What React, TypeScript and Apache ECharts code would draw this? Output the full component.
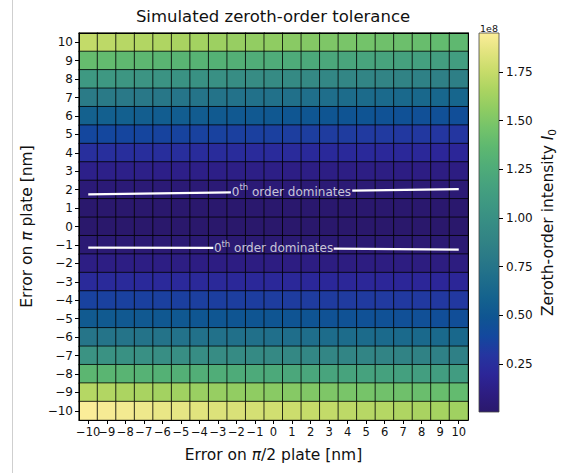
import React, { useEffect, useRef } from "react";
import * as echarts from "echarts";

const FONT = "DejaVu Sans";
const TEXT = "#111";

// Tick values on both axes (nm)
const xTickValues = [-10, -9, -8, -7, -6, -5, -4, -3, -2, -1, 0, 1, 2, 3, 4, 5, 6, 7, 8, 9, 10];
const yTickValues = [-10, -9, -8, -7, -6, -5, -4, -3, -2, -1, 0, 1, 2, 3, 4, 5, 6, 7, 8, 9, 10];

// Rows listed from the top (π plate error = +10) to the bottom (−10)
const rowYValues = [10, 9, 8, 7, 6, 5, 4, 3, 2, 1, 0, -1, -2, -3, -4, -5, -6, -7, -8, -9, -10];

// Zeroth-order intensity in units of 1e8; each row runs x = −10 … +10
const intensityRows: number[][] = [
  [1.74, 1.72, 1.70, 1.68, 1.67, 1.65, 1.63, 1.61, 1.59, 1.57, 1.56, 1.54, 1.52, 1.50, 1.48, 1.46, 1.44, 1.43, 1.41, 1.39, 1.37],
  [1.40, 1.39, 1.37, 1.36, 1.34, 1.33, 1.32, 1.30, 1.29, 1.27, 1.26, 1.25, 1.23, 1.22, 1.20, 1.19, 1.18, 1.16, 1.15, 1.13, 1.12],
  [1.08, 1.07, 1.06, 1.04, 1.03, 1.02, 1.01, 1.00, 0.98, 0.97, 0.96, 0.95, 0.94, 0.92, 0.91, 0.90, 0.89, 0.88, 0.86, 0.85, 0.84],
  [0.81, 0.80, 0.79, 0.78, 0.77, 0.76, 0.75, 0.74, 0.73, 0.72, 0.72, 0.71, 0.70, 0.69, 0.68, 0.67, 0.66, 0.65, 0.64, 0.63, 0.62],
  [0.58, 0.57, 0.57, 0.56, 0.55, 0.55, 0.54, 0.53, 0.52, 0.52, 0.51, 0.50, 0.50, 0.49, 0.48, 0.48, 0.47, 0.46, 0.45, 0.45, 0.44],
  [0.39, 0.39, 0.38, 0.38, 0.37, 0.37, 0.36, 0.36, 0.35, 0.35, 0.35, 0.34, 0.34, 0.33, 0.33, 0.32, 0.32, 0.31, 0.31, 0.30, 0.30],
  [0.26, 0.26, 0.25, 0.25, 0.25, 0.25, 0.24, 0.24, 0.24, 0.23, 0.23, 0.23, 0.22, 0.22, 0.22, 0.22, 0.21, 0.21, 0.21, 0.20, 0.20],
  [0.135, 0.133, 0.132, 0.130, 0.128, 0.126, 0.125, 0.123, 0.121, 0.119, 0.118, 0.116, 0.114, 0.112, 0.111, 0.109, 0.107, 0.105, 0.104, 0.102, 0.100],
  [0.052, 0.051, 0.051, 0.050, 0.050, 0.050, 0.049, 0.049, 0.048, 0.048, 0.047, 0.047, 0.046, 0.046, 0.045, 0.045, 0.044, 0.044, 0.043, 0.043, 0.042],
  [0.010, 0.010, 0.010, 0.010, 0.010, 0.010, 0.010, 0.011, 0.011, 0.011, 0.011, 0.011, 0.011, 0.011, 0.011, 0.011, 0.012, 0.012, 0.012, 0.012, 0.012],
  [0.004, 0.004, 0.004, 0.004, 0.004, 0.004, 0.004, 0.004, 0.004, 0.004, 0.005, 0.005, 0.005, 0.005, 0.005, 0.005, 0.005, 0.005, 0.005, 0.005, 0.005],
  [0.038, 0.038, 0.038, 0.038, 0.038, 0.038, 0.038, 0.037, 0.037, 0.037, 0.037, 0.037, 0.037, 0.037, 0.037, 0.037, 0.036, 0.036, 0.036, 0.036, 0.036],
  [0.112, 0.111, 0.110, 0.109, 0.108, 0.107, 0.106, 0.105, 0.104, 0.103, 0.102, 0.101, 0.100, 0.099, 0.098, 0.097, 0.096, 0.095, 0.094, 0.093, 0.092],
  [0.225, 0.224, 0.222, 0.221, 0.219, 0.218, 0.216, 0.215, 0.213, 0.212, 0.210, 0.209, 0.207, 0.206, 0.204, 0.203, 0.201, 0.200, 0.198, 0.197, 0.195],
  [0.360, 0.358, 0.355, 0.353, 0.350, 0.348, 0.345, 0.343, 0.340, 0.338, 0.335, 0.333, 0.330, 0.328, 0.325, 0.323, 0.320, 0.318, 0.315, 0.313, 0.310],
  [0.53, 0.53, 0.52, 0.52, 0.51, 0.51, 0.50, 0.50, 0.49, 0.49, 0.49, 0.48, 0.48, 0.47, 0.47, 0.46, 0.46, 0.45, 0.45, 0.44, 0.44],
  [0.76, 0.75, 0.75, 0.74, 0.74, 0.73, 0.72, 0.72, 0.71, 0.71, 0.70, 0.69, 0.69, 0.68, 0.68, 0.67, 0.66, 0.66, 0.65, 0.65, 0.64],
  [1.03, 1.02, 1.01, 1.00, 0.99, 0.99, 0.98, 0.97, 0.96, 0.95, 0.94, 0.93, 0.92, 0.91, 0.90, 0.90, 0.89, 0.88, 0.87, 0.86, 0.85],
  [1.35, 1.34, 1.33, 1.31, 1.30, 1.29, 1.28, 1.27, 1.25, 1.24, 1.23, 1.22, 1.21, 1.19, 1.18, 1.17, 1.16, 1.15, 1.13, 1.12, 1.11],
  [1.69, 1.68, 1.66, 1.65, 1.63, 1.62, 1.60, 1.59, 1.57, 1.56, 1.54, 1.53, 1.51, 1.50, 1.48, 1.47, 1.45, 1.44, 1.42, 1.41, 1.39],
  [1.95, 1.93, 1.92, 1.90, 1.88, 1.87, 1.85, 1.83, 1.82, 1.80, 1.79, 1.77, 1.75, 1.74, 1.72, 1.70, 1.69, 1.67, 1.65, 1.64, 1.62],
];

// Colour bar ticks (units of 1e8)
const colorbarTicks = [0.25, 0.5, 0.75, 1.0, 1.25, 1.5, 1.75];

// cmocean "haline"-like colour map, evenly spaced from low to high
const halineColors = [
  "#2a186c", "#2d1d82", "#2c2698", "#2535a0", "#13489e", "#0f5592", "#14628e",
  "#1e6d8b", "#297888", "#318385", "#378d84", "#3e9882", "#46a27e", "#50ad78",
  "#5eb870", "#74c36a", "#8fcc62", "#abd461", "#c8dc6a", "#e2e47f", "#fbed99",
];

// Contour "0th order dominates" (x, y in nm), split around their labels
const upperContourLeft = [[-10, 1.74], [-2.3, 1.853]];
const upperContourRight = [[4.25, 1.947], [10, 2.03]];
const lowerContourLeft = [[-10, -1.15], [-3.25, -1.16]];
const lowerContourRight = [[3.25, -1.2], [10, -1.25]];
const contourLabelPositions = [[0.97, 1.89], [0.0, -1.19]];

const tickLabel = (v: number) => (v < 0 ? "\u2212" + Math.abs(v) : String(v));

export default function App() {
  const ref = useRef<HTMLDivElement>(null);

  useEffect(() => {
    document.body.style.margin = "0";
    if (!ref.current) return;
    const chart = echarts.init(ref.current, null, { renderer: "svg" });

    const heatData: number[][] = [];
    rowYValues.forEach((y, r) => {
      intensityRows[r].forEach((v, c) => {
        heatData.push([c, yTickValues.indexOf(y), v]);
      });
    });
    const all = intensityRows.flat();
    const vMin = Math.min(...all);
    const vMax = Math.max(...all);

    const gradient = new echarts.graphic.LinearGradient(
      0, 1, 0, 0,
      halineColors.map((c, i) => ({ offset: i / (halineColors.length - 1), color: c }))
    );

    const labelRich = {
      n: { fontSize: 12, fontFamily: FONT, color: "#f2f2f2", lineHeight: 18 },
      sup: { fontSize: 8.5, fontFamily: FONT, color: "#f2f2f2", lineHeight: 8, verticalAlign: "top" },
    };

    const contourLine = (data: number[][]) => ({
      type: "line",
      xAxisIndex: 1,
      yAxisIndex: 1,
      data,
      symbol: "none",
      silent: true,
      z: 6,
      lineStyle: { color: "#ffffff", width: 2.2 },
    });

    const option: any = {
      animation: false,
      textStyle: { fontFamily: FONT },
      graphic: [
        {
          type: "line",
          shape: { x1: 12.5, y1: 0, x2: 12.5, y2: 473 },
          style: { stroke: "#cfcfcf", lineWidth: 1 },
        },
        {
          type: "text",
          x: 273,
          y: 16,
          style: {
            text: "Simulated zeroth-order tolerance",
            fontSize: 16.5,
            fontFamily: FONT,
            fill: TEXT,
            textAlign: "center",
            textVerticalAlign: "middle",
            align: "center",
            verticalAlign: "middle",
          },
        },
        {
          type: "text",
          x: 489,
          y: 28,
          style: {
            text: "1e8",
            fontSize: 9.5,
            fontFamily: FONT,
            fill: TEXT,
            textAlign: "center",
            textVerticalAlign: "middle",
            align: "center",
            verticalAlign: "middle",
          },
        },
      ],
      grid: [
        { left: 79, top: 33, width: 389, height: 387, show: false },
        {
          left: 479,
          top: 33,
          width: 20,
          height: 379,
          show: true,
          borderColor: "#444",
          borderWidth: 0.8,
          backgroundColor: gradient,
        },
      ],
      visualMap: {
        show: false,
        type: "continuous",
        min: vMin,
        max: vMax,
        dimension: 2,
        seriesIndex: 0,
        inRange: { color: halineColors },
      },
      xAxis: [
        {
          type: "category",
          gridIndex: 0,
          data: xTickValues.map(tickLabel),
          position: "bottom",
          z: 5,
          axisLine: { show: true, onZero: false, lineStyle: { color: "#000", width: 1 } },
          axisTick: { show: true, alignWithLabel: true, length: 4, lineStyle: { color: "#000" } },
          axisLabel: { interval: 0, fontSize: 11.5, color: TEXT, margin: 6, fontFamily: FONT },
          splitLine: { show: false },
          name: "Error on {i|π}/2 plate [nm]",
          nameLocation: "middle",
          nameGap: 27,
          nameTextStyle: {
            fontSize: 15.5,
            color: TEXT,
            fontFamily: FONT,
            rich: { i: { fontStyle: "italic", fontSize: 15.5, color: TEXT, fontFamily: FONT } },
          },
        },
        {
          type: "value",
          gridIndex: 0,
          min: -10.5,
          max: 10.5,
          position: "top",
          z: 5,
          axisLine: { show: true, onZero: false, lineStyle: { color: "#000", width: 1 } },
          axisTick: { show: false },
          axisLabel: { show: false },
          splitLine: { show: false },
        },
        { type: "value", gridIndex: 1, min: 0, max: 1, show: false },
      ],
      yAxis: [
        {
          type: "category",
          gridIndex: 0,
          data: yTickValues.map(tickLabel),
          position: "left",
          z: 5,
          axisLine: { show: true, onZero: false, lineStyle: { color: "#000", width: 1 } },
          axisTick: { show: true, alignWithLabel: true, length: 4, lineStyle: { color: "#000" } },
          axisLabel: { interval: 0, fontSize: 12, color: TEXT, margin: 6, fontFamily: FONT },
          splitLine: { show: false },
          name: "Error on {i|π} plate [nm]",
          nameLocation: "middle",
          nameGap: 44,
          nameTextStyle: {
            fontSize: 15.5,
            color: TEXT,
            fontFamily: FONT,
            rich: { i: { fontStyle: "italic", fontSize: 15.5, color: TEXT, fontFamily: FONT } },
          },
        },
        {
          type: "value",
          gridIndex: 0,
          min: -10.5,
          max: 10.5,
          position: "right",
          z: 5,
          axisLine: { show: true, onZero: false, lineStyle: { color: "#000", width: 1 } },
          axisTick: { show: false },
          axisLabel: { show: false },
          splitLine: { show: false },
        },
        {
          type: "value",
          gridIndex: 1,
          min: vMin,
          max: vMax,
          position: "right",
          axisLine: { show: false, onZero: false },
          axisTick: { show: true, customValues: colorbarTicks, length: 4, lineStyle: { color: "#000" } },
          axisLabel: {
            customValues: colorbarTicks,
            formatter: (v: number) => v.toFixed(2),
            fontSize: 12,
            color: TEXT,
            margin: 7,
            fontFamily: FONT,
          },
          splitLine: { show: false },
          name: "Zeroth-order intensity {i|I}{sub|0}",
          nameLocation: "middle",
          nameGap: 40,
          nameTextStyle: {
            fontSize: 15.5,
            color: TEXT,
            fontFamily: FONT,
            lineHeight: 18,
            rich: {
              i: { fontStyle: "italic", fontSize: 15.5, color: TEXT, fontFamily: FONT, lineHeight: 18 },
              sub: { fontSize: 10.5, color: TEXT, fontFamily: FONT, lineHeight: 11, verticalAlign: "bottom" },
            },
          },
        },
      ],
      series: [
        {
          type: "heatmap",
          xAxisIndex: 0,
          yAxisIndex: 0,
          data: heatData,
          itemStyle: { borderColor: "rgba(0,0,0,0.85)", borderWidth: 0.9 },
          emphasis: { disabled: true },
        },
        contourLine(upperContourLeft),
        contourLine(upperContourRight),
        contourLine(lowerContourLeft),
        contourLine(lowerContourRight),
        {
          type: "scatter",
          xAxisIndex: 1,
          yAxisIndex: 1,
          data: contourLabelPositions,
          symbolSize: 0,
          silent: true,
          z: 7,
          label: {
            show: true,
            position: "inside",
            formatter: "{n|0}{sup|th}{n| order dominates}",
            rich: labelRich,
          },
        },
      ],
    };

    chart.setOption(option);
    return () => chart.dispose();
  }, []);

  return <div ref={ref} style={{ width: 566, height: 473 }} />;
}
